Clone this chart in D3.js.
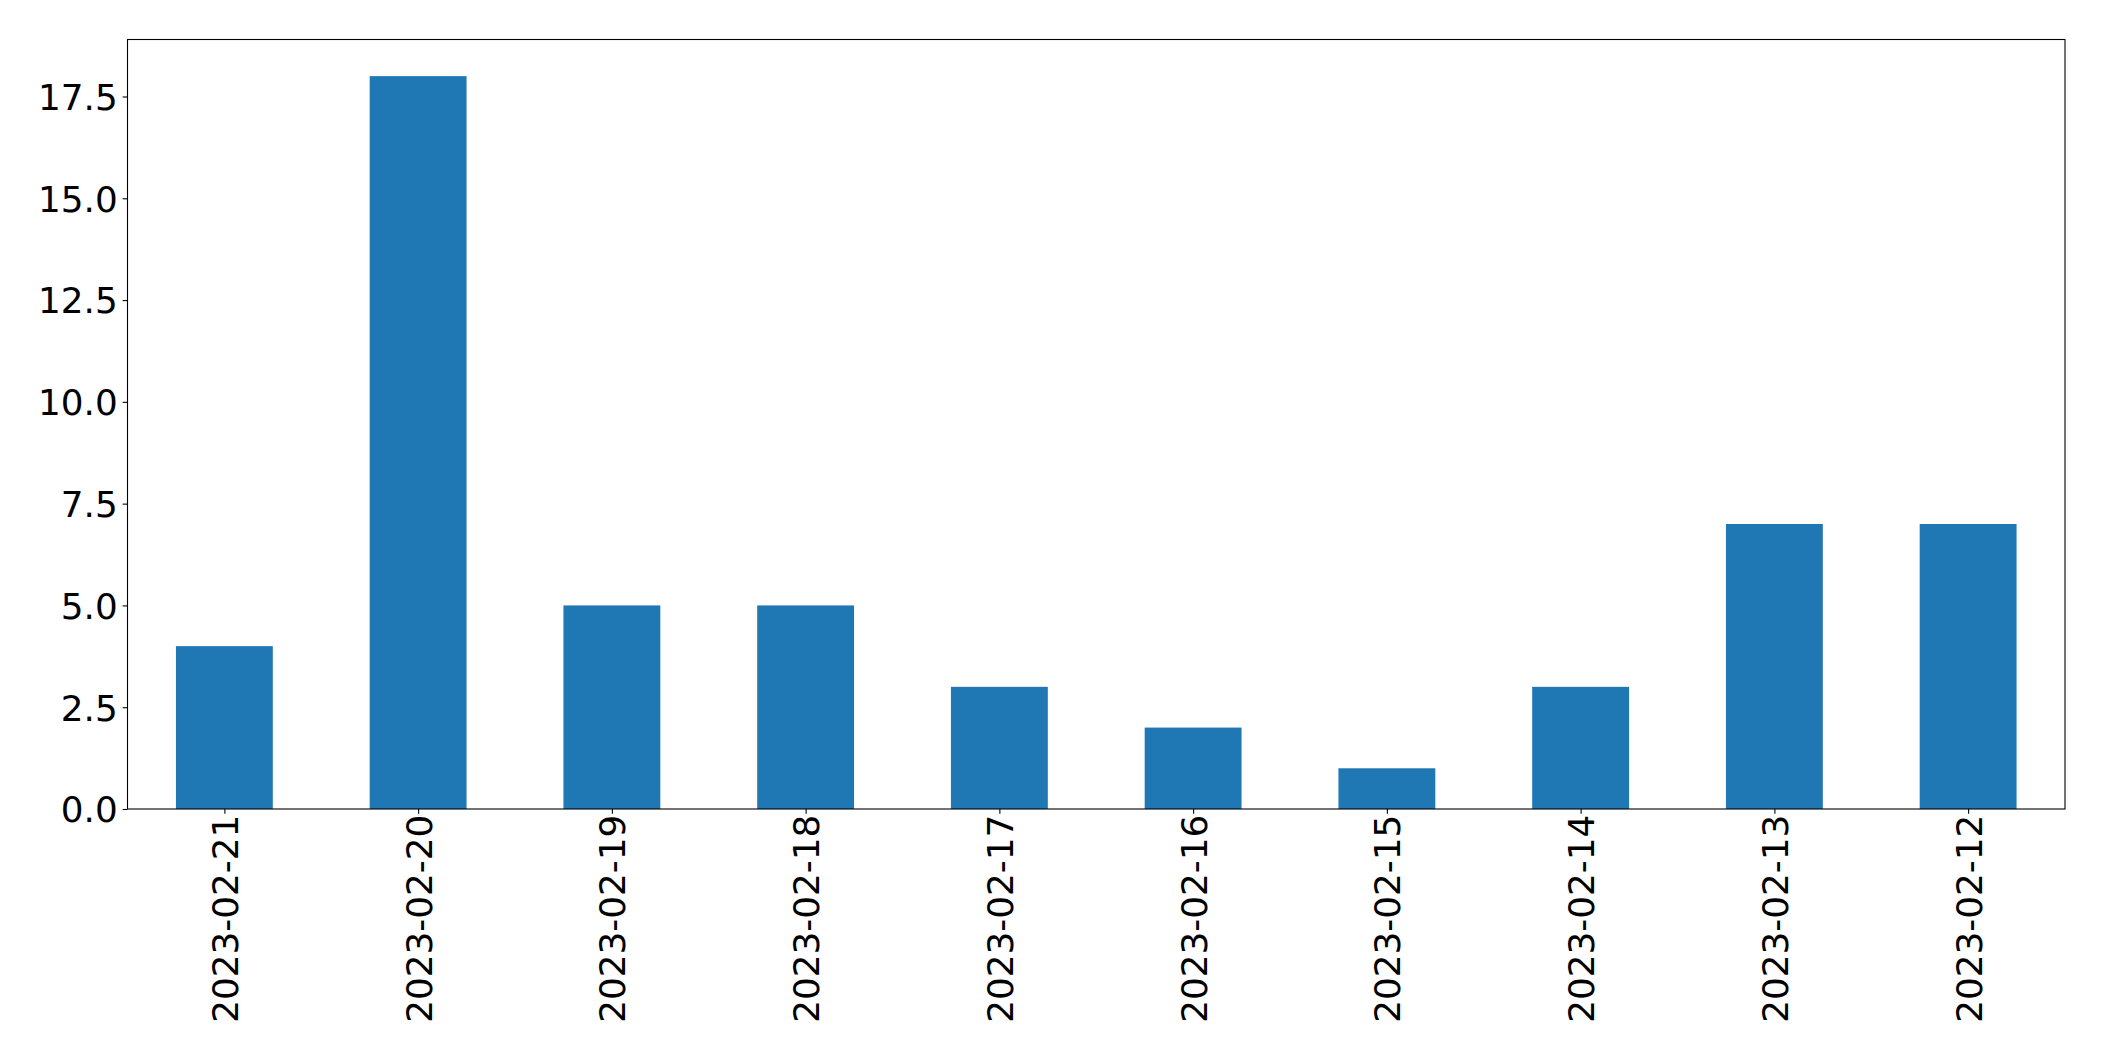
<!DOCTYPE html>
<html>
<head>
<meta charset="utf-8">
<script src="https://cdn.jsdelivr.net/npm/d3@7"></script>
<style>
  body { margin: 0; background: #fff; }
  svg text { font-family: "DejaVu Sans", sans-serif; fill: #000; }
</style>
</head>
<body>
<div id="chart"></div>
<script>
// Chart data.
var dates = ["2023-02-21", "2023-02-20", "2023-02-19", "2023-02-18", "2023-02-17",
             "2023-02-16", "2023-02-15", "2023-02-14", "2023-02-13", "2023-02-12"];
var counts = [4, 18, 5, 5, 3, 2, 1, 3, 7, 7];
var yTicks = [0, 2.5, 5, 7.5, 10, 12.5, 15, 17.5];

// Layout.
var width = 2104,
    height = 1061,
    margin = {top: 39.5, right: 2104 - 2065, bottom: 1061 - 809, left: 127.5},
    innerW = width - margin.left - margin.right,
    innerH = height - margin.top - margin.bottom,
    fontSize = 35.8,
    tickLen = 4.86,
    tickPad = 4.86,
    barColor = "#1f77b4";

var svg = d3.select("#chart").append("svg")
    .attr("width", width)
    .attr("height", height);

var g = svg.append("g")
    .attr("transform", "translate(" + margin.left + "," + margin.top + ")");

// Pandas-style bar layout: xlim (-0.5, n-0.5), bars 0.5 wide.
var x = d3.scaleLinear()
    .domain([-0.5, dates.length - 0.5])
    .range([0, innerW]);

var y = d3.scaleLinear()
    .domain([0, d3.max(counts) * 1.05])
    .range([innerH, 0]);

// Bars.
g.selectAll("rect.bar")
  .data(counts)
  .enter().append("rect")
    .attr("class", "bar")
    .attr("x", function (d, i) { return x(i - 0.25); })
    .attr("width", function (d, i) { return x(i + 0.25) - x(i - 0.25); })
    .attr("y", function (d) { return y(d); })
    .attr("height", function (d) { return y(0) - y(d); })
    .attr("fill", barColor);

// Y axis.
var yAxis = d3.axisLeft(y)
    .tickValues(yTicks)
    .tickFormat(d3.format(".1f"))
    .tickSize(tickLen)
    .tickPadding(tickPad);

var yG = g.append("g").call(yAxis);
yG.select(".domain").remove();
yG.selectAll(".tick line").attr("stroke", "#000").attr("stroke-width", 1.1);
yG.selectAll(".tick text")
    .style("font-size", fontSize + "px")
    .attr("dy", "0.36em");

// X axis with rotated date labels.
var xAxis = d3.axisBottom(x)
    .tickValues(d3.range(dates.length))
    .tickFormat(function (i) { return dates[i]; })
    .tickSize(tickLen)
    .tickPadding(tickPad);

var xG = g.append("g")
    .attr("transform", "translate(0," + innerH + ")")
    .call(xAxis);
xG.select(".domain").remove();
xG.selectAll(".tick line").attr("stroke", "#000").attr("stroke-width", 1.1);
xG.selectAll(".tick text")
    .style("font-size", fontSize + "px")
    .attr("text-anchor", "end")
    .attr("dy", "0.36em")
    .attr("x", 0)
    .attr("y", 0)
    .attr("transform", "translate(0," + (tickLen + tickPad - 4) + ") rotate(-90)");

// Axes frame.
g.append("rect")
    .attr("width", innerW)
    .attr("height", innerH)
    .attr("fill", "none")
    .attr("stroke", "#000")
    .attr("stroke-width", 1.1);
</script>
</body>
</html>
